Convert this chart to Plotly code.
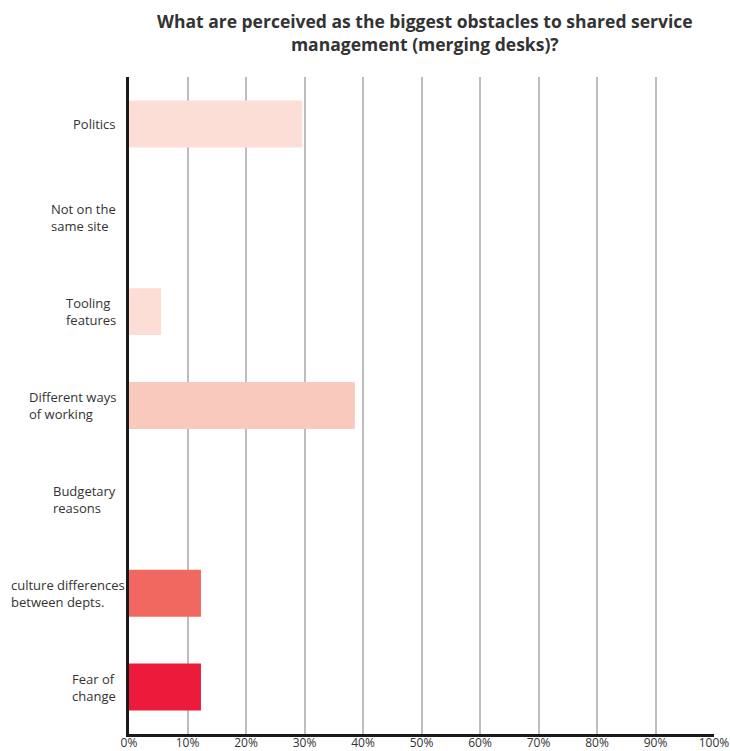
import plotly.graph_objects as go

# Survey answers, listed top to bottom
categories = [
    "Politics",
    "Not on the<br>same site",
    "Tooling<br>features",
    "Different ways<br>of working",
    "Budgetary<br>reasons",
    "culture differences<br>between depts.",
    "Fear of<br>change",
]
percentages = [29.6, 0, 5.5, 38.6, 0, 12.3, 12.3]
bar_colors = ["#FDDED6", "#FDDED6", "#FDDED6", "#F9C9BD", "#F9C9BD", "#F0685F", "#ED1B3B"]
x_ticks = list(range(0, 101, 10))
x_tick_labels = [f"{v}%" for v in x_ticks]
chart_title = ("<b>What are perceived as the biggest obstacles to shared service<br>"
               "management (merging desks)?</b>")

TEXT = "#333333"
FONT = "Open Sans"

fig = go.Figure(
    go.Bar(
        x=percentages,
        y=categories,
        orientation="h",
        marker=dict(color=bar_colors, line=dict(width=0)),
        hoverinfo="x+y",
    )
)

# Category labels: left-aligned lines, block placed just left of the axis;
# the widest label is allowed to run up close to the axis line
annotations = [
    dict(
        x=0, xref="paper", y=cat, yref="y",
        text=cat, showarrow=False,
        xanchor="right", yanchor="middle", align="left",
        xshift=-2 if cat.startswith("culture") else -11,
        font=dict(family=FONT, size=13, color=TEXT),
    )
    for cat in categories
]

# Two-line bold title above the plot
annotations.append(
    dict(
        x=0.506, xref="paper", y=1.0678, yref="paper",
        text=chart_title, showarrow=False,
        xanchor="center", yanchor="middle", align="center",
        font=dict(family=FONT, size=17.5, color=TEXT),
    )
)

fig.update_layout(
    width=730,
    height=751,
    margin=dict(l=129, r=16, t=77, b=17, autoexpand=False),
    paper_bgcolor="white",
    plot_bgcolor="white",
    bargap=0.5,
    showlegend=False,
    font=dict(family=FONT, size=12, color=TEXT),
    annotations=annotations,
)

fig.update_xaxes(
    range=[0, 100],
    tickvals=x_ticks,
    ticktext=x_tick_labels,
    showgrid=True,
    gridcolor="#BDBDC1",
    gridwidth=2,
    zeroline=False,
    showline=True,
    linecolor="#1A1A1A",
    linewidth=3,
    ticks="",
    ticklabelstandoff=-4,
    tickfont=dict(family=FONT, size=12, color=TEXT),
    automargin=False,
    fixedrange=True,
)

fig.update_yaxes(
    autorange="reversed",
    showgrid=False,
    zeroline=False,
    showline=True,
    linecolor="#1A1A1A",
    linewidth=3,
    ticks="",
    showticklabels=False,
    automargin=False,
    fixedrange=True,
)

fig.write_html("out.html")
